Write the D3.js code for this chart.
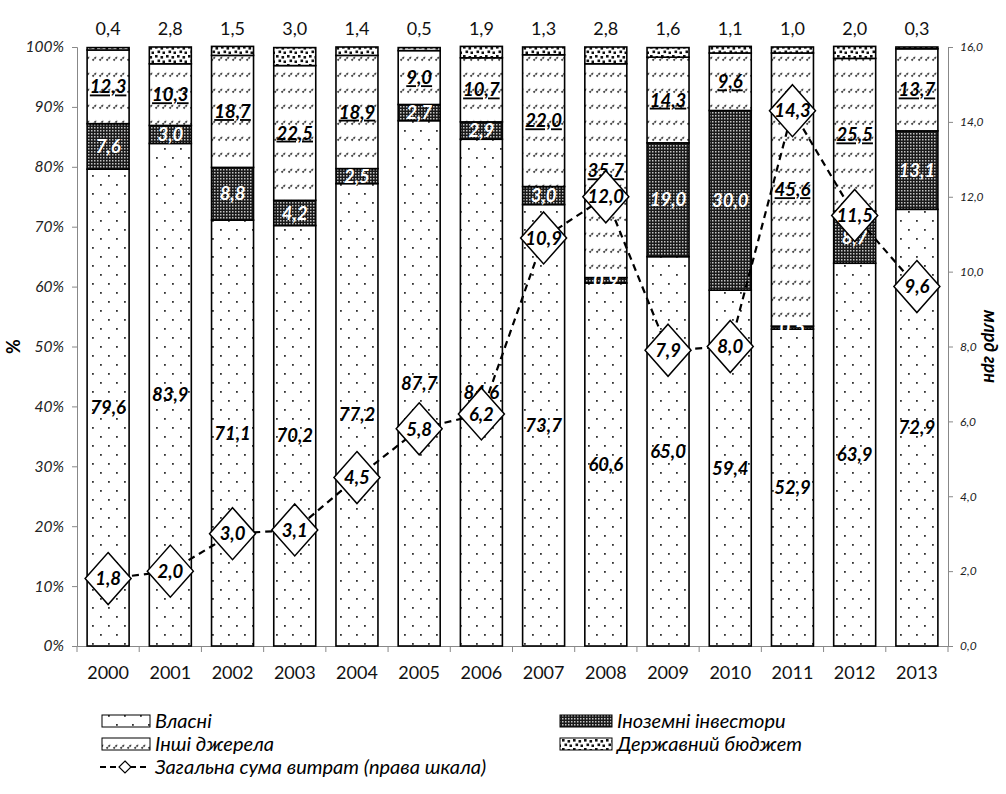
<!DOCTYPE html>
<html><head><meta charset="utf-8">
<script src="https://cdn.jsdelivr.net/npm/d3@7/dist/d3.min.js"></script>
<style>
html,body{margin:0;padding:0;background:#fff;}
svg{display:block;font-family:Lato,"Open Sans",sans-serif;}
</style></head>
<body>
<svg id="chart" width="1006" height="794"></svg>
<script>
// ---- data ----
const years = ["2000","2001","2002","2003","2004","2005","2006","2007","2008","2009","2010","2011","2012","2013"];
const own     = [79.6, 83.9, 71.1, 70.2, 77.2, 87.7, 84.6, 73.7, 60.6, 65.0, 59.4, 52.9, 63.9, 72.9];
const foreign = [7.6, 3.0, 8.8, 4.2, 2.5, 2.7, 2.9, 3.0, 0.9, 19.0, 30.0, 0.5, 8.7, 13.1];
const other   = [12.3, 10.3, 18.7, 22.5, 18.9, 9.0, 10.7, 22.0, 35.7, 14.3, 9.6, 45.6, 25.5, 13.7];
const budget  = [0.4, 2.8, 1.5, 3.0, 1.4, 0.5, 1.9, 1.3, 2.8, 1.6, 1.1, 1.0, 2.0, 0.3];
const total   = [1.8, 2.0, 3.0, 3.1, 4.5, 5.8, 6.2, 10.9, 12.0, 7.9, 8.0, 14.3, 11.5, 9.6];
const leftTicks  = [0,10,20,30,40,50,60,70,80,90,100];
const rightTicks = [0,2,4,6,8,10,12,14,16];
const seriesNames = ["Власні","Іноземні інвестори","Інші джерела","Державний бюджет"];
const lineName = "Загальна сума витрат (права шкала)";

const fmt = v => d3.format(".1f")(v).replace(".", ",");

const svg = d3.select("#chart");
const L = 77, R = 948, T = 47, B = 646;
const FONT = "Lato,'Open Sans',sans-serif";

// ---- patterns ----
const defs = svg.append("defs");
const pDots = defs.append("pattern").attr("id","pOwn").attr("patternUnits","userSpaceOnUse").attr("width",16).attr("height",18);
pDots.append("rect").attr("width",16).attr("height",18).attr("fill","#fff");
pDots.append("rect").attr("x",4).attr("y",4).attr("width",1.8).attr("height",1.8).attr("fill","#333");
pDots.append("rect").attr("x",12).attr("y",13).attr("width",1.8).attr("height",1.8).attr("fill","#333");

const pFor = defs.append("pattern").attr("id","pFor").attr("patternUnits","userSpaceOnUse").attr("width",3).attr("height",3);
pFor.append("rect").attr("width",3).attr("height",3).attr("fill","#1a1a1a");
pFor.append("rect").attr("x",1).attr("y",1).attr("width",1.5).attr("height",1.5).attr("fill","#c4c4c4");

const pOth = defs.append("pattern").attr("id","pOth").attr("patternUnits","userSpaceOnUse").attr("width",7).attr("height",16);
pOth.append("rect").attr("width",7).attr("height",16).attr("fill","#fff");
pOth.append("line").attr("x1",1.5).attr("y1",12.5).attr("x2",5.5).attr("y2",8.5).attr("stroke","#444").attr("stroke-width",1.8).attr("stroke-dasharray","2,0.8");

const pBud = defs.append("pattern").attr("id","pBud").attr("patternUnits","userSpaceOnUse").attr("width",11).attr("height",9);
pBud.append("rect").attr("width",11).attr("height",9).attr("fill","#fff");
[[1,1],[6.5,2],[3.5,5.5],[8.5,6.5]].forEach(([a,b])=>pBud.append("rect").attr("x",a).attr("y",b).attr("width",2.6).attr("height",2.6).attr("fill","#111"));

const fills = ["url(#pOwn)","url(#pFor)","url(#pOth)","url(#pBud)"];

// ---- scales ----
const x = d3.scaleBand().domain(years).range([L,R]).paddingInner(0.325).paddingOuter(0.1625);
const yL = d3.scaleLinear().domain([0,100]).range([B,T]);
const yR = d3.scaleLinear().domain([0,16]).range([B,T]);

// ---- axes ----
const gL = svg.append("g").attr("transform",`translate(${L},0)`)
  .call(d3.axisLeft(yL).tickValues(leftTicks).tickSize(5).tickPadding(8).tickFormat(d=>d+"%"));
gL.selectAll("text").attr("font-size",15.5).attr("font-style","italic").attr("fill","#222").attr("font-family",FONT);
gL.selectAll("line,path").attr("stroke","#888");

const gR = svg.append("g").attr("transform",`translate(${R},0)`)
  .call(d3.axisRight(yR).tickValues(rightTicks).tickSize(5).tickPadding(7).tickFormat(d=>fmt(d)));
gR.selectAll("text").attr("font-size",12).attr("font-style","italic").attr("fill","#222").attr("font-family",FONT);
gR.selectAll("line,path").attr("stroke","#888");

const gX = svg.append("g").attr("transform",`translate(0,${B})`)
  .call(d3.axisBottom(x).tickSize(0).tickPadding(20));
gX.selectAll("text").attr("font-size",18).attr("fill","#111").attr("font-family",FONT);
gX.select("path").attr("stroke","#888");
// category boundary ticks
const bounds = years.map(d => x(d) - x.step()*x.paddingOuter()).concat([R]);
gX.selectAll("line.bt").data(bounds).join("line").attr("class","bt")
  .attr("x1",d=>d).attr("x2",d=>d).attr("y1",0).attr("y2",6).attr("stroke","#888");

// axis titles
svg.append("text").attr("transform",`translate(20,${(T+B)/2}) rotate(-90)`)
  .attr("text-anchor","middle").attr("font-weight","bold").attr("font-size",18).text("%");
svg.append("text").attr("transform",`translate(984,${(T+B)/2}) rotate(90)`)
  .attr("text-anchor","middle").attr("font-weight","bold").attr("font-style","italic").attr("font-size",18).text("млрд грн");

// ---- stacked bars ----
const rows = years.map((y,i)=>({year:y, own:own[i], foreign:foreign[i], other:other[i], budget:budget[i]}));
const keys = ["own","foreign","other","budget"];
const stacked = d3.stack().keys(keys)(rows);

const gBars = svg.append("g");
stacked.forEach((s,k)=>{
  gBars.selectAll(null).data(s).join("rect")
    .attr("x",d=>x(d.data.year)).attr("width",x.bandwidth())
    .attr("y",d=>yL(d[1])).attr("height",d=>yL(d[0])-yL(d[1]))
    .attr("fill",fills[k]).attr("stroke","#000").attr("stroke-width",1.6);
});

// labels
const gLab = svg.append("g").attr("font-family",FONT).attr("text-anchor","middle");
const labStyle = [
  {fill:"#000", under:false},
  {fill:"#fff", under:false},
  {fill:"#000", under:true},
];
[0,1,2].forEach(k=>{
  gLab.selectAll(null).data(stacked[k]).join("text")
    .attr("x",d=>x(d.data.year)+x.bandwidth()/2)
    .attr("y",d=>(yL(d[0])+yL(d[1]))/2)
    .attr("dy","0.36em")
    .attr("font-size",18.5).attr("font-weight","bold").attr("font-style","italic")
    .attr("fill",labStyle[k].fill)
    .style("text-decoration",labStyle[k].under?"underline":"none")
    .text(d=>fmt(d.data[keys[k]]));
});
// budget labels above bars
gLab.selectAll(null).data(stacked[3]).join("text")
  .attr("x",d=>x(d.data.year)+x.bandwidth()/2)
  .attr("y",yL(100)-18).attr("dy","0.36em")
  .attr("font-size",18).attr("fill","#111")
  .text(d=>fmt(d.data.budget));

// ---- line ----
const cx = (d,i)=>x(years[i])+x.bandwidth()/2;
const line = d3.line().x((d,i)=>cx(d,i)).y(d=>yR(d));
svg.append("path").datum(total).attr("d",line).attr("fill","none")
  .attr("stroke","#000").attr("stroke-width",2.2).attr("stroke-dasharray","7,5");

const gD = svg.append("g");
const dia = "M0,-26L23,0L0,26L-23,0Z";
gD.selectAll("path").data(total).join("path")
  .attr("transform",(d,i)=>`translate(${cx(d,i)},${yR(d)})`)
  .attr("d",dia).attr("fill","#fff").attr("stroke","#000").attr("stroke-width",1.5);
gD.selectAll("text").data(total).join("text")
  .attr("x",(d,i)=>cx(d,i)).attr("y",d=>yR(d)).attr("dy","0.36em")
  .attr("text-anchor","middle").attr("font-size",18.5).attr("font-weight","bold").attr("font-style","italic")
  .text(d=>fmt(d));

// ---- legend ----
const gLeg = svg.append("g").attr("font-size",20).attr("font-style","italic");
const legItems = [
  {k:0, x:102, y:721}, {k:1, x:560, y:721},
  {k:2, x:102, y:744}, {k:3, x:560, y:744}
];
legItems.forEach(it=>{
  const w = it.k%2===0 ? 48 : 52;
  gLeg.append("rect").attr("x",it.x).attr("y",it.y-6).attr("width",w).attr("height",12)
    .attr("fill",fills[it.k]).attr("stroke","#000").attr("stroke-width",1);
  gLeg.append("text").attr("x",it.x+w+5).attr("y",it.y).attr("dy","0.36em").text(seriesNames[it.k]);
});
const ly = 767;
gLeg.append("line").attr("x1",100).attr("x2",150).attr("y1",ly).attr("y2",ly)
  .attr("stroke","#000").attr("stroke-width",2).attr("stroke-dasharray","6,4");
gLeg.append("path").attr("transform",`translate(125,${ly})`).attr("d","M0,-6L6,0L0,6L-6,0Z")
  .attr("fill","#fff").attr("stroke","#000").attr("stroke-width",1.2);
gLeg.append("text").attr("x",155).attr("y",ly).attr("dy","0.36em").text(lineName);
</script>
</body></html>
